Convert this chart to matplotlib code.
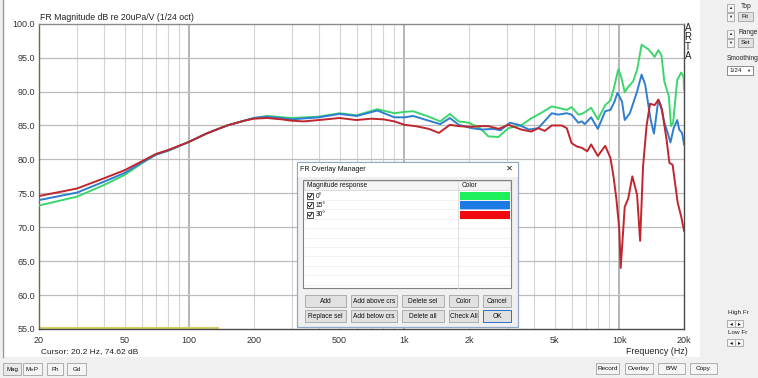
import matplotlib
matplotlib.use("Agg")
import matplotlib.pyplot as plt
from matplotlib.patches import Rectangle
from matplotlib.ticker import FixedLocator, NullFormatter

plt.rcParams['font.family'] = ['Liberation Sans', 'DejaVu Sans']

# ---- data ----
red_f = [20, 30, 40, 50, 60, 70, 80, 100, 120, 150, 180, 200, 230, 270, 300, 340, 400, 500, 600, 700,
         800, 900, 1000, 1130, 1300, 1450, 1630, 1790, 2060, 2250, 2460, 2750, 3050, 3500, 3900, 4200,
         4500, 4850, 5400, 5700, 6000, 6350, 6700, 7100, 7400, 7950, 8600, 9100, 9400, 9700, 10000,
         10150, 10400, 10600, 11000, 11500, 12100, 12500, 12900, 13400, 13900, 14600, 15200, 15800,
         16600, 17100, 17700, 18700, 19400, 20000]
red_db = [74.6, 75.7, 77.2, 78.4, 79.7, 80.8, 81.4, 82.6, 83.8, 85.0, 85.7, 86.0, 86.1, 85.9, 85.7,
          85.6, 85.8, 86.1, 85.8, 86.0, 85.9, 85.6, 85.1, 84.9, 84.5, 83.9, 85.1, 84.9, 84.8, 84.9,
          84.9, 84.5, 85.1, 84.4, 84.1, 84.6, 84.2, 85.0, 85.0, 84.6, 82.4, 81.9, 81.7, 81.2, 82.2,
          80.5, 82.0, 80.2, 77.5, 74.1, 69.7, 64.0, 69.0, 73.0, 74.2, 77.5, 74.8, 68.0, 79.0, 85.0,
          88.2, 88.0, 88.8, 87.3, 82.9, 79.5, 79.2, 73.6, 71.6, 69.5]

blue_f = [20, 30, 40, 50, 60, 70, 80, 100, 120, 150, 180, 200, 230, 300, 400, 500, 600, 750, 900, 1000,
          1100, 1300, 1470, 1630, 1790, 2060, 2300, 2600, 2800, 3100, 3400, 3800, 4200, 4850, 5200,
          5700, 6000, 6450, 6700, 6900, 7400, 7950, 8600, 9100, 9500, 9800, 10000, 10300, 10600,
          11200, 12100, 12700, 13200, 14000, 14500, 15200, 15600, 16200, 16800, 17300, 17900, 18600,
          19000, 19600, 20000]
blue_db = [74.0, 75.1, 76.7, 78.0, 79.5, 80.7, 81.3, 82.6, 83.8, 85.0, 85.7, 86.1, 86.3, 85.9, 86.2,
           86.7, 86.4, 87.2, 86.2, 86.2, 86.4, 85.7, 85.2, 86.1, 85.1, 84.6, 84.4, 84.5, 84.3, 85.4,
           85.1, 84.4, 84.6, 86.8, 86.6, 86.8, 86.6, 85.4, 85.6, 85.2, 86.2, 84.5, 87.1, 87.3, 88.5,
           89.8, 89.3, 88.5, 85.8, 86.8, 90.0, 92.5, 91.0, 85.8, 83.8, 88.8, 88.0, 85.4, 83.9, 82.5,
           84.6, 85.8, 84.4, 83.9, 82.2]

green_f = [20, 30, 40, 50, 60, 70, 80, 100, 120, 150, 180, 200, 230, 300, 400, 500, 600, 750, 900, 1000,
           1100, 1300, 1470, 1630, 1790, 2000, 2250, 2460, 2740, 3050, 3520, 3920, 4360, 4850, 5200,
           5700, 6000, 6450, 6800, 7400, 7950, 8600, 9100, 9400, 9900, 10200, 10600, 11000, 11600,
           12100, 12700, 13700, 14600, 15200, 15700, 16200, 17000, 17400, 17800, 18600, 19400, 19900,
           20000]
green_db = [73.2, 74.5, 76.2, 77.7, 79.4, 80.7, 81.3, 82.6, 83.8, 85.0, 85.7, 86.1, 86.4, 86.1, 86.3,
            86.8, 86.5, 87.4, 86.8, 87.0, 87.1, 86.3, 85.6, 86.7, 85.6, 85.4, 84.6, 83.4, 83.3, 84.6,
            85.1, 86.1, 86.9, 87.8, 87.6, 87.3, 87.7, 86.6, 86.8, 87.6, 85.9, 88.0, 88.7, 90.3, 93.3,
            92.2, 89.9, 90.7, 91.5, 93.2, 96.9, 96.2, 95.1, 96.1, 95.4, 91.5, 89.3, 84.9, 85.4, 91.7,
            92.8, 92.2, 90.3]

marker_f = [20, 136]
overlay_names = ['0°', '15°', '30°']
x_ticks = [20, 50, 100, 200, 500, 1000, 2000, 5000, 10000, 20000]
x_labels = ['20', '50', '100', '200', '500', '1k', '2k', '5k', '10k', '20k']
y_ticks = [55, 60, 65, 70, 75, 80, 85, 90, 95, 100]

GREEN, BLUE, RED = '#3cd66c', '#2f7ed0', '#c0262d'

W, H = 758, 378
fig = plt.figure(figsize=(W / 100, H / 100), dpi=100, facecolor='#f0f0f0')

# background panel (white plot area of the window)
bg = fig.add_axes([0, 0, 1, 1], zorder=0)
bg.set_xlim(0, W)
bg.set_ylim(H, 0)
bg.axis('off')
bg.add_patch(Rectangle((4, 0), 696, 357, facecolor='white', edgecolor='none'))
bg.plot([3, 3], [0, 357], color='#9a9a9a', lw=1)

# ---- main plot ----
ax = fig.add_axes([39 / W, 1 - 329 / H, 645 / W, 305.3 / H], zorder=1)
ax.set_xscale('log')
ax.set_xlim(20, 20000)
ax.set_ylim(55, 100)

minor = [m * d for d in (10, 100, 1000) for m in range(2, 10)]
for f in minor:
    if 20 < f < 20000:
        ax.axvline(f, color='#d4d4d4', lw=0.8, zorder=1)
for f in (100, 1000, 10000):
    ax.axvline(f, color='#b0b0b0', lw=1.3, zorder=1)
for y in y_ticks[1:-1]:
    ax.axhline(y, color='#bcbcbc', lw=0.9, zorder=1)

ax.plot(marker_f, [55.2, 55.2], color='#d6cf6a', lw=1.6, zorder=2)
ax.plot(green_f, green_db, color=GREEN, lw=1.4, zorder=3)
ax.plot(blue_f, blue_db, color=BLUE, lw=1.4, zorder=4)
ax.plot(red_f, red_db, color=RED, lw=1.4, zorder=5)

ax.xaxis.set_major_locator(FixedLocator(x_ticks))
ax.xaxis.set_minor_formatter(NullFormatter())
ax.set_xticklabels(x_labels)
ax.set_yticks(y_ticks)
ax.set_yticklabels(['%.1f' % v for v in y_ticks])
ax.tick_params(axis='both', which='both', length=0, labelsize=6.5, colors='#333333')
ax.tick_params(axis='x', pad=5)
ax.tick_params(axis='y', pad=3)
ax.spines['top'].set_color('#8a8a8a')
ax.spines['left'].set_color('#6e6a45')
ax.spines['right'].set_color('#4a4a4a')
ax.spines['bottom'].set_color('#4a4a4a')
for s in ax.spines.values():
    s.set_linewidth(1.0)

# ---- overlay (window texts and widgets) ----
ov = fig.add_axes([0, 0, 1, 1], zorder=10)
ov.set_xlim(0, W)
ov.set_ylim(H, 0)
ov.axis('off')
ov.patch.set_alpha(0)

ov.text(40, 17, 'FR Magnitude dB re 20uPa/V (1/24 oct)', fontsize=6.3, color='#222222', va='center')
for i, ch in enumerate('ARTA'):
    ov.text(688, 28 + i * 9.4, ch, fontsize=7, color='#222222', ha='center', va='center')
ov.text(41, 352, 'Cursor: 20.2 Hz, 74.62 dB', fontsize=6.0, color='#222222', va='center')
ov.text(626, 352, 'Frequency (Hz)', fontsize=6.4, color='#222222', va='center')


def button(x0, y0, x1, y1, label, fs=4.8, edge='#adadad', face='#e1e1e1'):
    ov.add_patch(Rectangle((x0, y0), x1 - x0, y1 - y0, facecolor=face, edgecolor=edge, lw=0.7))
    if label:
        ov.text((x0 + x1) / 2, (y0 + y1) / 2 + 0.3, label, fontsize=fs, color='#111111',
                ha='center', va='center')


# dialog
ov.add_patch(Rectangle((297, 162), 221, 165, facecolor='#f0f0f0', edgecolor='#8fa8c8', lw=0.9))
ov.add_patch(Rectangle((297.5, 162.5), 220, 14, facecolor='white', edgecolor='none'))
ov.text(300, 169.5, 'FR Overlay Manager', fontsize=5, color='#111111', va='center')
ov.text(509, 169.5, '✕', fontsize=6, color='#222222', ha='center', va='center')
ov.add_patch(Rectangle((303, 180), 208, 108, facecolor='white', edgecolor='#828282', lw=0.8))
ov.add_patch(Rectangle((304, 181), 206, 9, facecolor='#f4f4f4', edgecolor='#d0d0d0', lw=0.5))
ov.plot([458, 458], [181, 288], color='#d8d8d8', lw=0.6)
ov.text(307, 185.5, 'Magnitude response', fontsize=4.8, color='#111111', va='center')
ov.text(462, 185.5, 'Color', fontsize=4.8, color='#111111', va='center')
for k in range(11):
    yy = 200 + k * 9.4
    if yy < 287:
        ov.plot([304, 510], [yy, yy], color='#ececec', lw=0.5)
for k, (name, col) in enumerate(zip(overlay_names, ['#1df05a', '#1c7ae4', '#f00a10'])):
    yc = 196 + k * 9.4
    ov.add_patch(Rectangle((307, yc - 3), 6, 6, facecolor='white', edgecolor='#333333', lw=0.6))
    ov.plot([308.2, 309.8, 312], [yc, yc + 1.6, yc - 1.8], color='#111111', lw=0.7)
    ov.text(316, yc, name, fontsize=4.8, color='#111111', va='center')
    ov.add_patch(Rectangle((460, yc - 4.2), 50, 8.6, facecolor=col, edgecolor='none'))

row1 = [(305, 346, 'Add'), (351, 397, 'Add above crs'), (402, 444, 'Delete sel'),
        (449, 478, 'Color'), (483, 511, 'Cancel')]
row2 = [(305, 346, 'Replace sel'), (351, 397, 'Add below crs'), (402, 444, 'Delete all'),
        (449, 478, 'Check All'), (483, 511, 'OK')]
for x0, x1, lab in row1:
    button(x0, 295, x1, 306.5, lab)
for x0, x1, lab in row2:
    button(x0, 310, x1, 321.5, lab, edge='#2a6fc9' if lab == 'OK' else '#adadad')

# right control panel
for yt, lab, blab in [(4, 'Top', 'Fit'), (30, 'Range', 'Set')]:
    button(727, yt, 734, yt + 7.8, '', face='#f4f4f4')
    button(727, yt + 8.8, 734, yt + 16.6, '', face='#f4f4f4')
    ov.text(730.5, yt + 4, '▲', fontsize=3, ha='center', va='center', color='#222222')
    ov.text(730.5, yt + 12.7, '▼', fontsize=3, ha='center', va='center', color='#222222')
    ov.text(738.5 if lab == 'Range' else 741, yt + 2, lab, fontsize=4.8, color='#222222', va='center')
    button(738, yt + 8, 753, yt + 17, blab, fs=4.6)
ov.text(727, 58, 'Smoothing', fontsize=4.8, color='#222222', va='center')
ov.add_patch(Rectangle((727, 66), 26, 9, facecolor='white', edgecolor='#7a7a7a', lw=0.6))
ov.text(729, 70.7, '1/24', fontsize=4.6, color='#222222', va='center')
ov.text(748, 70.7, '▼', fontsize=3, color='#222222', ha='center', va='center')

for yt, yb, lab in [(312.5, 319.5, 'High Fr'), (332, 339, 'Low Fr')]:
    ov.text(728, yt, lab, fontsize=4.6, color='#222222', va='center')
    button(727, yb, 735, yb + 7, '◂', fs=4, face='#f4f4f4')
    button(735, yb, 743, yb + 7, '▸', fs=4, face='#f4f4f4')

# bottom bar buttons
for x0, x1, lab in [(3, 21, 'Mag'), (23, 42, 'M+P'), (47, 63, 'Ph'), (67, 86, 'Gd')]:
    button(x0, 363, x1, 375, lab, fs=4.4, face='#f4f4f4' if lab != 'Mag' else '#e8e8e8')
for x0, x1, lab in [(596, 619, 'Record'), (625, 653, 'Overlay'), (658, 685, 'B/W'), (690, 717, 'Copy')]:
    button(x0, 363, x1, 374, lab, fs=4.6, face='#f4f4f4')

fig.savefig('out.png', dpi=100, facecolor=fig.get_facecolor())
